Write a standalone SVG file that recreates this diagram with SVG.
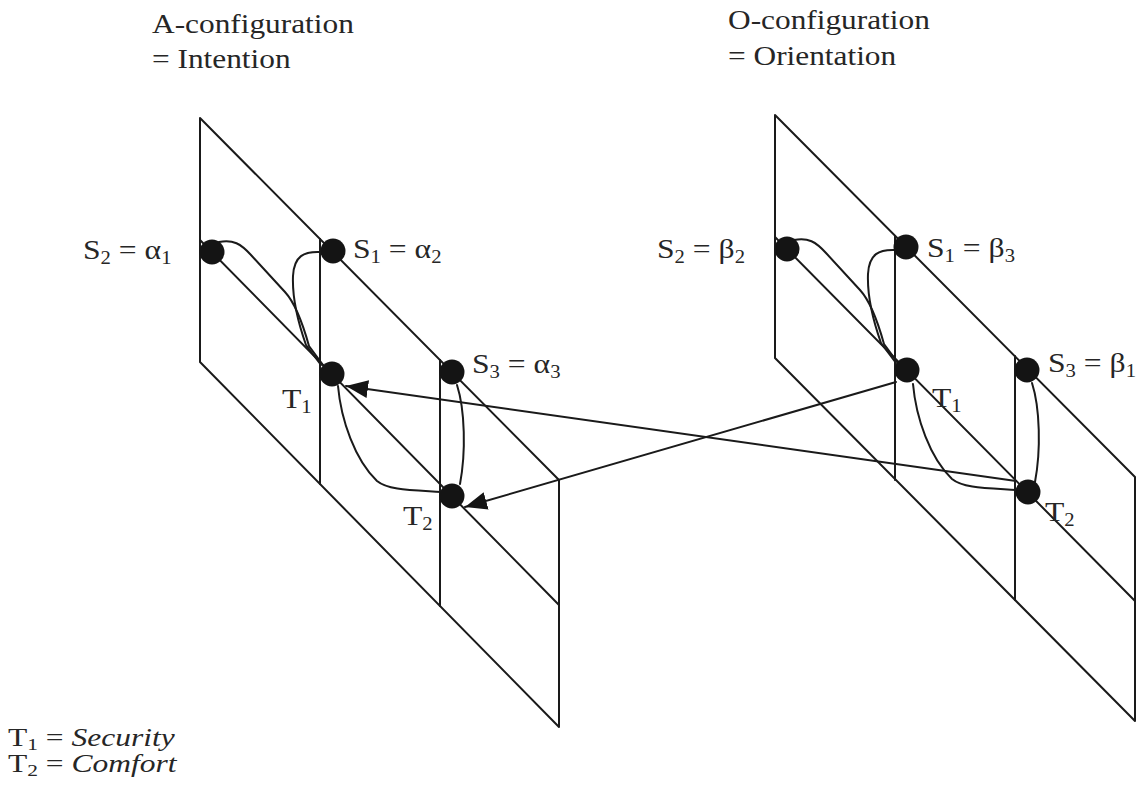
<svg xmlns="http://www.w3.org/2000/svg" width="1142" height="796" viewBox="0 0 1142 796">
<style>
  .ln{fill:none;stroke:#1a1a1a;stroke-width:2;stroke-linejoin:round;stroke-linecap:round}
  .cv{fill:none;stroke:#1a1a1a;stroke-width:2;stroke-linecap:round}
  .dot{fill:#141414}
  .t{font-family:"Liberation Serif","Times New Roman",serif;font-size:27.5px;fill:#262626}
  .lg{font-family:"Liberation Serif","Times New Roman",serif;font-size:25px;fill:#262626}
  .sub{font-size:18px}
  .lg .sub{font-size:17px}
  .it{font-style:italic}
</style>
<defs>
  <marker id="ah" markerUnits="userSpaceOnUse" markerWidth="24" markerHeight="20" viewBox="0 -10 24 20" refX="22" refY="0" orient="auto">
    <path d="M0,-9 L22,0 L0,9 z" fill="#141414"/>
  </marker>
</defs>
<rect width="1142" height="796" fill="#ffffff"/>

<g id="titles">
  <text class="t" transform="translate(152,33) scale(1.14,1)">A-configuration</text>
  <text class="t" transform="translate(152,68) scale(1.14,1)">= Intention</text>
  <text class="t" transform="translate(728,29) scale(1.14,1)">O-configuration</text>
  <text class="t" transform="translate(728,65) scale(1.14,1)">= Orientation</text>
</g>

<g id="planes-A">
  <polygon class="ln" points="200,118 559,480 559,727 200,362"/>
  <line class="ln" x1="200" y1="240" x2="559" y2="605"/>
  <line class="ln" x1="320" y1="239" x2="320" y2="484"/>
  <line class="ln" x1="440" y1="360" x2="440" y2="606"/>
</g>
<g id="planes-O">
  <polygon class="ln" points="775,115 1135,477 1135,721 775,358"/>
  <line class="ln" x1="775" y1="237" x2="1135" y2="601"/>
  <line class="ln" x1="895" y1="236" x2="895" y2="480"/>
  <line class="ln" x1="1015" y1="356" x2="1015" y2="600"/>
</g>

<g id="connectors">
  <path class="cv" d="M219,242 C233,239 241,244 251,255 L285,292 C297,305 304,328 309,346 L323,365"/>
  <path class="cv" d="M321,252 C304,251 294,256 293,276 C292,300 300,328 306,345 L321,365"/>
  <path class="cv" d="M338,386 C341,420 355,460 377,481 C388,490 410,490 441,492"/>
  <path class="cv" d="M457,385 C465,410 466,452 460,484"/>
  <path class="cv" d="M794,240 C808,237 816,242 826,253 L860,290 C872,303 879,326 884,344 L898,363"/>
  <path class="cv" d="M896,250 C879,249 869,254 868,274 C867,298 875,326 881,343 L896,363"/>
  <path class="cv" d="M913,384 C916,418 930,458 952,479 C963,488 985,488 1016,490"/>
  <path class="cv" d="M1032,383 C1040,408 1041,450 1035,482"/>
  <line class="cv" x1="1016" y1="481" x2="346" y2="386" marker-end="url(#ah)"/>
  <line class="cv" x1="896" y1="382" x2="465" y2="507" marker-end="url(#ah)"/>
</g>

<g id="A-S2">
  <circle class="dot" cx="212" cy="252" r="12.5"/>
  <text class="t" transform="translate(83,259) scale(1.15,1)">S<tspan class="sub" dy="5">2</tspan><tspan dy="-5"> = α</tspan><tspan class="sub" dy="5">1</tspan></text>
</g>
<g id="A-S1">
  <circle class="dot" cx="333" cy="251" r="12.5"/>
  <text class="t" transform="translate(353,258) scale(1.15,1)">S<tspan class="sub" dy="5">1</tspan><tspan dy="-5"> = α</tspan><tspan class="sub" dy="5">2</tspan></text>
</g>
<g id="A-T1">
  <circle class="dot" cx="332" cy="374" r="12.5"/>
  <text class="t" transform="translate(282,408) scale(1.15,1)">T<tspan class="sub" dy="5">1</tspan></text>
</g>
<g id="A-S3">
  <circle class="dot" cx="452" cy="372" r="12.5"/>
  <text class="t" transform="translate(472,373) scale(1.15,1)">S<tspan class="sub" dy="5">3</tspan><tspan dy="-5"> = α</tspan><tspan class="sub" dy="5">3</tspan></text>
</g>
<g id="A-T2">
  <circle class="dot" cx="452" cy="496" r="12.5"/>
  <text class="t" transform="translate(403,525) scale(1.15,1)">T<tspan class="sub" dy="5">2</tspan></text>
</g>

<g id="O-S2">
  <circle class="dot" cx="787" cy="249" r="12.5"/>
  <text class="t" transform="translate(657,258) scale(1.15,1)">S<tspan class="sub" dy="5">2</tspan><tspan dy="-5"> = β</tspan><tspan class="sub" dy="5">2</tspan></text>
</g>
<g id="O-S1">
  <circle class="dot" cx="906" cy="247" r="12.5"/>
  <text class="t" transform="translate(927,257) scale(1.15,1)">S<tspan class="sub" dy="5">1</tspan><tspan dy="-5"> = β</tspan><tspan class="sub" dy="5">3</tspan></text>
</g>
<g id="O-T1">
  <circle class="dot" cx="907" cy="370" r="12.5"/>
  <text class="t" transform="translate(932,407) scale(1.15,1)">T<tspan class="sub" dy="5">1</tspan></text>
</g>
<g id="O-S3">
  <circle class="dot" cx="1027" cy="370" r="12.5"/>
  <text class="t" transform="translate(1048,372) scale(1.15,1)">S<tspan class="sub" dy="5">3</tspan><tspan dy="-5"> = β</tspan><tspan class="sub" dy="5">1</tspan></text>
</g>
<g id="O-T2">
  <circle class="dot" cx="1028" cy="492" r="12.5"/>
  <text class="t" transform="translate(1045,521) scale(1.15,1)">T<tspan class="sub" dy="5">2</tspan></text>
</g>

<g id="legend">
  <text class="lg" transform="translate(8,746) scale(1.26,1)">T<tspan class="sub" dy="4">1</tspan><tspan dy="-4"> = </tspan><tspan class="it">Security</tspan></text>
  <text class="lg" transform="translate(8,772) scale(1.26,1)">T<tspan class="sub" dy="4">2</tspan><tspan dy="-4"> = </tspan><tspan class="it">Comfort</tspan></text>
</g>
</svg>
